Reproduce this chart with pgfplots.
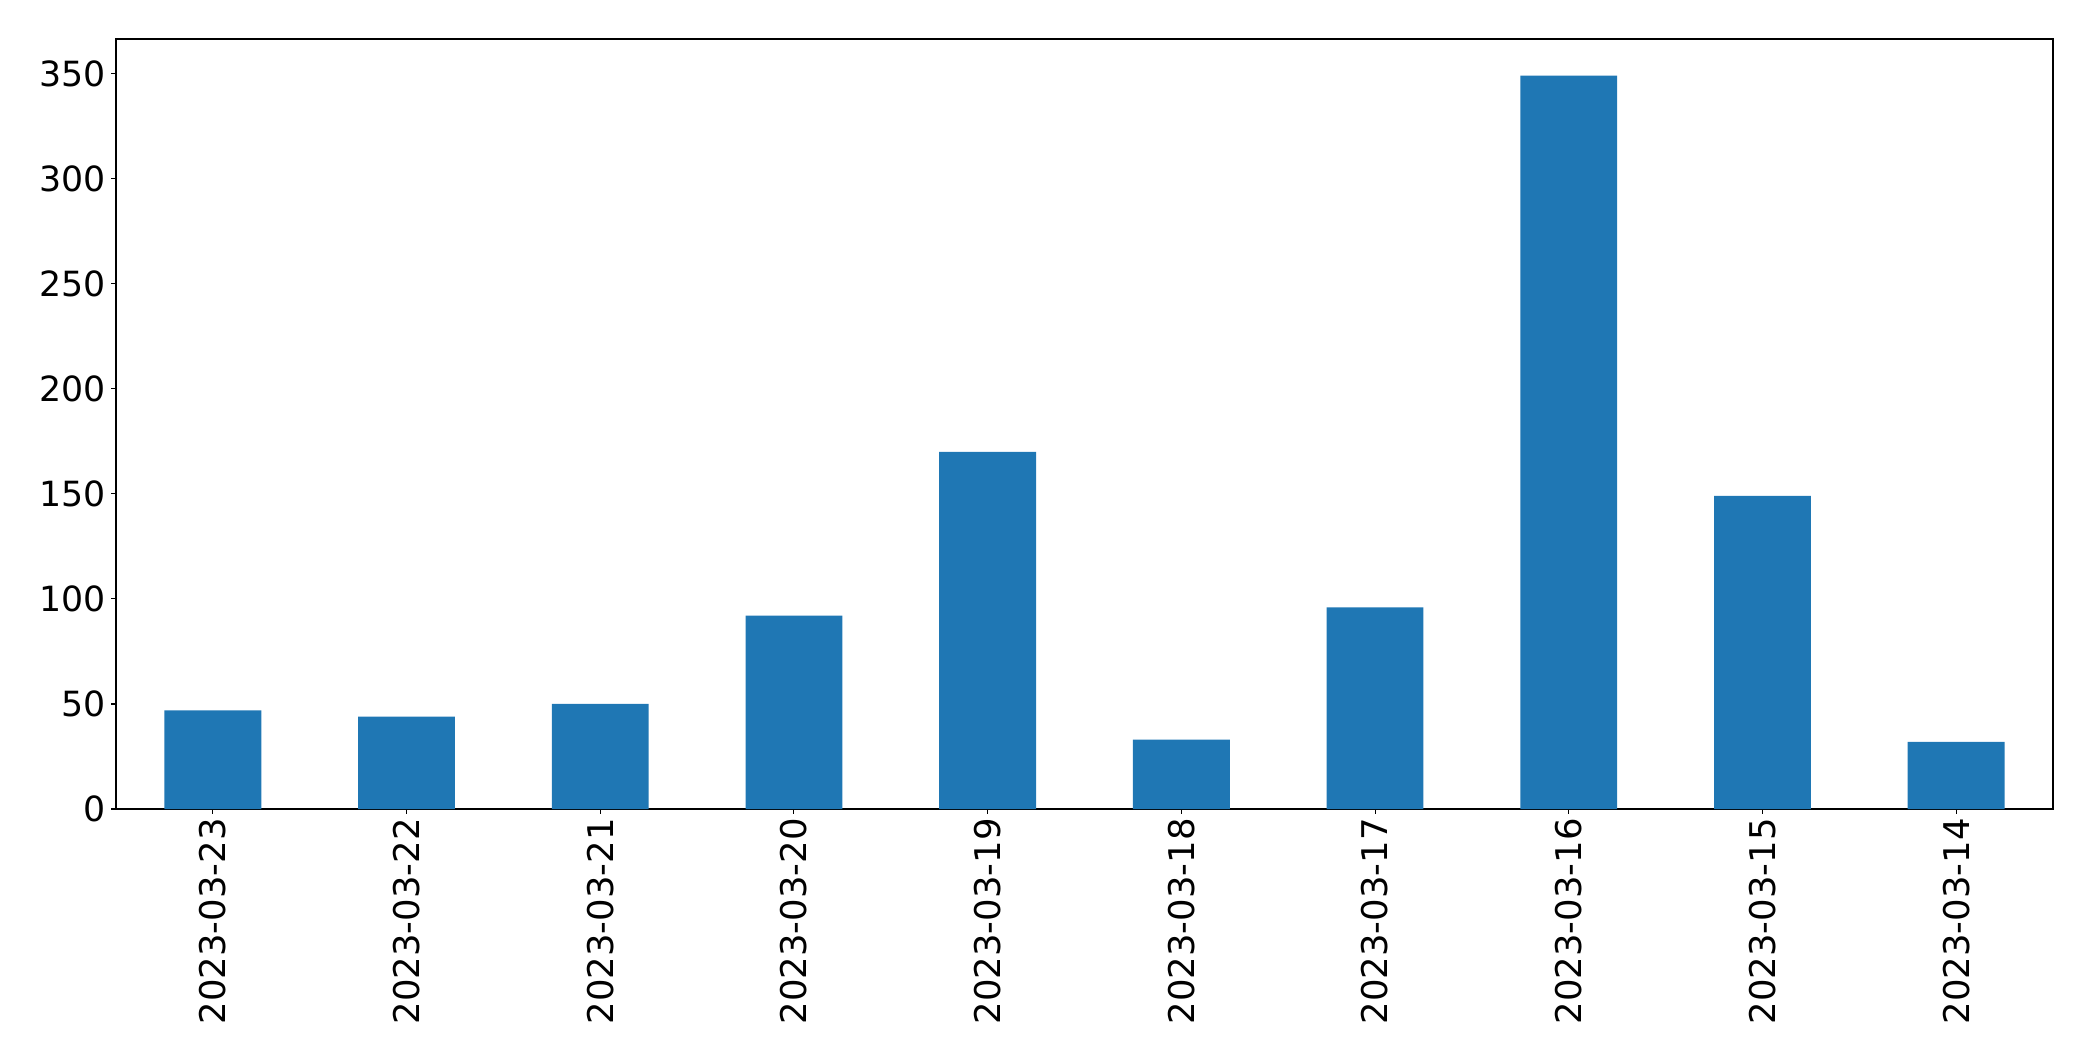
\documentclass[border=0pt]{standalone}
\usepackage{fontspec}
\setmainfont{DejaVu Sans}
\usepackage{pgfplots}
\pgfplotsset{compat=1.18}
\definecolor{mplblue}{HTML}{1F77B4}
\begin{document}
\begin{tikzpicture}
\begin{axis}[
  scale only axis,
  width=1394.6pt, height=554.4pt,
  xmin=-0.5, xmax=9.5,
  ymin=0, ymax=366.45,
  axis line style={line width=0.8pt},
  tick style={line width=0.8pt, black},
  major tick length=3.5pt,
  tick align=outside,
  tick pos=left,
  xtick={0,1,2,3,4,5,6,7,8,9},
  xticklabels={2023-03-23,2023-03-22,2023-03-21,2023-03-20,2023-03-19,2023-03-18,2023-03-17,2023-03-16,2023-03-15,2023-03-14},
  ytick={0,50,100,150,200,250,300,350},
  /pgf/number format/assume math mode=true,
  yticklabel style={font=\fontsize{25}{30}\selectfont, inner sep=0pt, xshift=-4pt},
  xticklabel style={font=\fontsize{25.5}{30}\selectfont, yshift=-3pt, rotate=90, anchor=east, inner sep=0pt},
]
\addplot[ybar, bar width=0.5, fill=mplblue, draw=none] coordinates {
(0,47) (1,44) (2,50) (3,92) (4,170) (5,33) (6,96) (7,349) (8,149) (9,32)
};
\coordinate (bl) at (rel axis cs:0,0);
\coordinate (tr) at (rel axis cs:1,1);
\end{axis}
\path ([xshift=-83.5pt,yshift=-181.4pt]bl) rectangle ([xshift=28.8pt,yshift=28.1pt]tr);
\end{tikzpicture}
\end{document}
